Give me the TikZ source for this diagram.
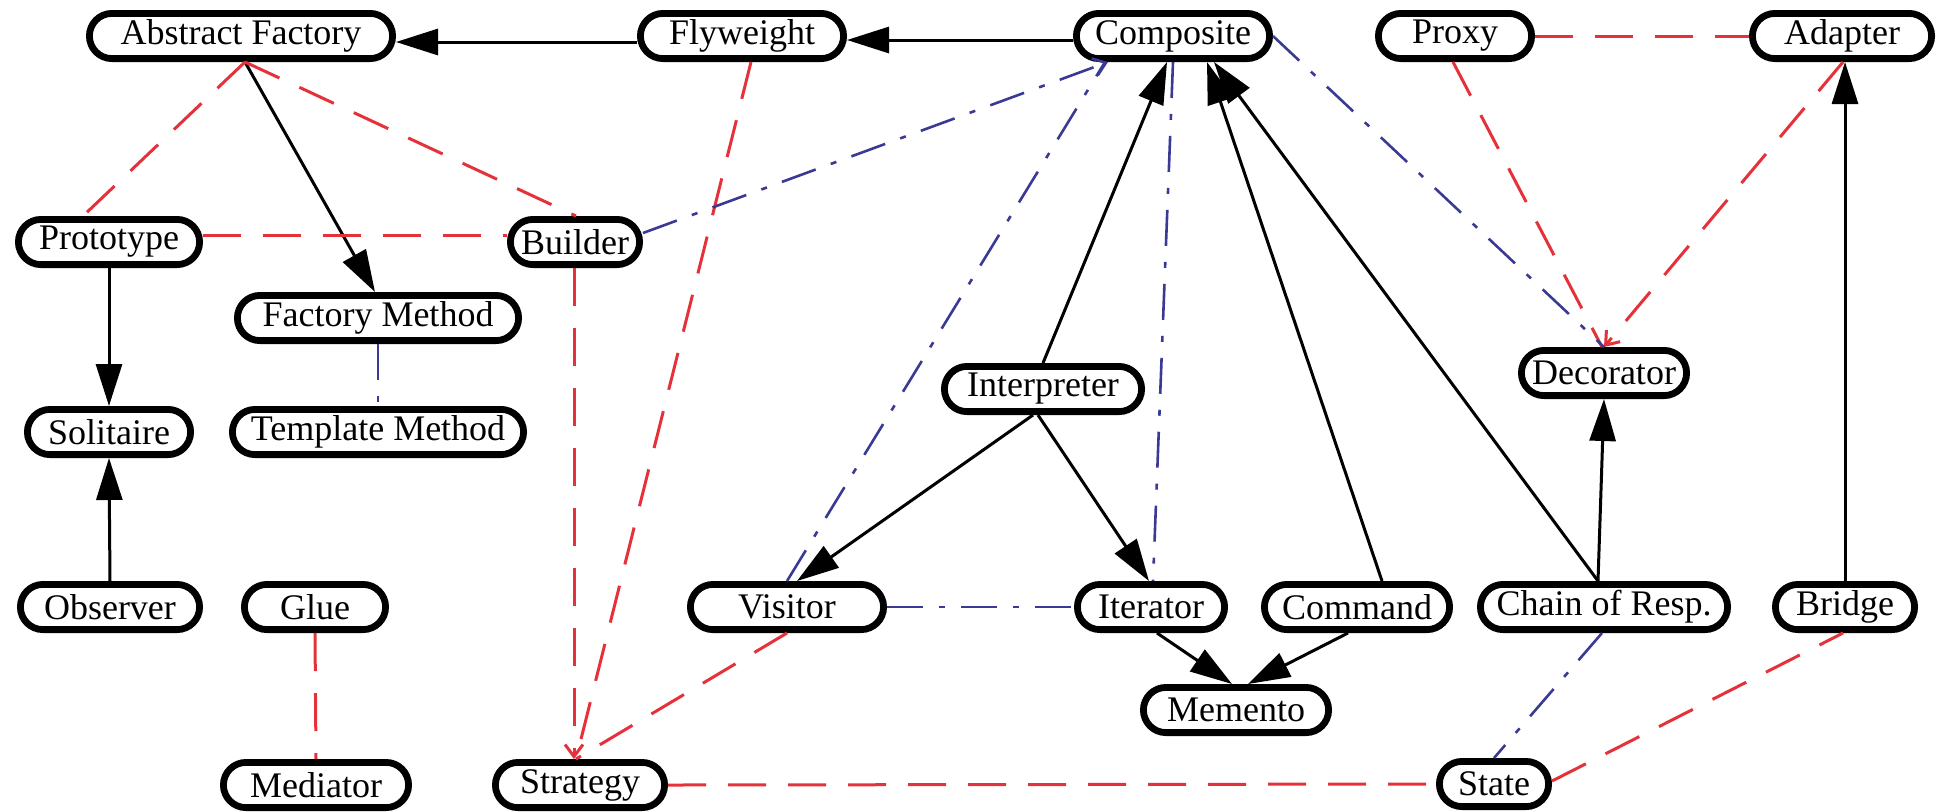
\documentclass[tikz,border=0pt]{standalone}
\usepackage{fontspec}
\setmainfont{Liberation Serif}
\usetikzlibrary{shapes.misc,arrows.meta,calc}
\definecolor{ered}{HTML}{E5323A}
\definecolor{eblue}{HTML}{3A3A94}
\begin{document}
\begin{tikzpicture}[x=0.5pt,y=-0.5pt,
 pat/.style={rounded rectangle, draw=black, line width=3.4pt, fill=white, minimum height=22.6pt, inner xsep=2pt, inner ysep=0pt, font=\fontsize{18}{20}\selectfont},
 uses/.style={black, line width=1.5pt, -{Triangle[length=21pt,width=13pt]}},
 rel/.style={ered, line width=1.5pt, dash pattern=on 19pt off 11pt},
 relarr/.style={rel, -{Straight Barb[length=6pt,width=9pt]}},
 alt/.style={eblue, line width=1.3pt, dash pattern=on 18pt off 8pt on 3pt off 8pt},
 altarr/.style={alt, -{Straight Barb[length=6pt,width=9pt]}}
]
\useasboundingbox (0,0) rectangle (1954,811);
% nodes
\node[pat, minimum width=155.6pt] (AF) at (241,36) {Abstract Factory};
\node[pat, minimum width=105.6pt] (FW) at (742,36) {Flyweight};
\node[pat, minimum width=100.6pt] (CO) at (1173,36) {Composite};
\node[pat, minimum width=80.6pt] (PX) at (1455,36) {Proxy};
\node[pat, minimum width=93.6pt] (AD) at (1842,36) {Adapter};
\node[pat, minimum width=94.6pt] (PT) at (109,242) {Prototype};
\node[pat, minimum width=68.6pt] (BU) at (575,242) {Builder};
\node[pat, minimum width=144.6pt] (FM) at (378,318) {Factory Method};
\node[pat, minimum width=86.6pt] (DE) at (1604,373) {Decorator};
\node[pat, minimum width=102.6pt] (IN) at (1043,389) {Interpreter};
\node[pat, minimum width=85.6pt] (SO) at (109,432) {Solitaire};
\node[pat, minimum width=149.6pt] (TM) at (378,432) {Template Method};
\node[pat, minimum width=93.6pt] (OB) at (110,607) {Observer};
\node[pat, minimum width=74.6pt] (GL) at (315,607) {Glue};
\node[pat, minimum width=100.6pt] (VI) at (787,607) {Visitor};
\node[pat, minimum width=77.6pt] (IT) at (1151,607) {Iterator};
\node[pat, minimum width=96.6pt] (CM) at (1357,607) {Command};
\node[pat, minimum width=127.6pt] (CH) at (1604,607) {Chain of Resp.};
\node[pat, minimum width=73.6pt] (BR) at (1845,607) {Bridge};
\node[pat, minimum width=96.6pt] (ME) at (1236,710) {Memento};
\node[pat, minimum width=96.6pt] (MD) at (316,785) {Mediator};
\node[pat, minimum width=88.6pt] (ST) at (580,785) {Strategy};
\node[pat, minimum width=58.6pt] (SA) at (1494,784) {State};
% solid edges
\draw[uses] ($(FW.west)+(0,6)$) -- ($(AF.east)+(0,6)$);
\draw[uses] ($(CO.west)+(0,4)$) -- ($(FW.east)+(0,4)$);
\draw[uses] ($(AF.south)+(4,0)$) -- ($(FM.north)+(-3,0)$);
\draw[uses] (PT.south) -- (SO.north);
\draw[uses] (OB.north) -- (SO.south);
\draw[uses] (IN.north) -- ($(CO.south)+(-6,0)$);
\draw[uses] ($(CM.north)+(25,0)$) -- ($(CO.south)+(34,0)$);
\draw[uses] ($(CH.north)+(-6,0)$) -- ($(CO.south)+(41,0)$);
\draw[uses] ($(CH.north)+(-6,0)$) -- (DE.south);
\draw[uses] (BR.north) -- (BR.north |- AD.south);
\draw[uses] ($(IN.south)+(-10,0)$) -- ($(VI.north)+(10,0)$);
\draw[uses] ($(IN.south)+(-5,0)$) -- ($(IT.north)+(-2,0)$);
\draw[uses] ($(IT.south)+(6,0)$) -- ($(ME.north)+(-4,0)$);
\draw[uses] ($(CM.south)+(-9,0)$) -- ($(ME.north)+(12,0)$);
% red dashed edges
\draw[rel] ($(AF.south)+(4,0)$) -- ($(PT.north)+(-26,0)$);
\draw[rel] ($(AF.south)+(4,0)$) -- ($(BU.north)+(1,0)$);
\draw[rel] ($(PT.east)+(0,-7)$) -- ($(BU.west)+(0,-7)$);
\draw[relarr] ($(BU.south)+(-1,0)$) -- ($(ST.north)+(-6,0)$);
\draw[rel] ($(FW.south)+(9,0)$) -- ($(ST.north)+(-4,0)$);
\draw[rel] (VI.south) -- ($(ST.north)+(-4,0)$);
\draw[rel] (ST.east) -- (SA.west);
\draw[rel] ($(SA.east)+(0,-3)$) -- ($(BR.south)+(-2,0)$);
\draw[rel] (GL.south) -- (MD.north);
\draw[rel] (PX.east) -- (AD.west);
\draw[rel] ($(PX.south)+(-2,0)$) -- ($(DE.north)+(-2,0)$);
\draw[relarr] ($(AD.south)+(1,0)$) -- (DE.north);
% blue dash-dot edges
\draw[altarr] ($(BU.east)+(0,-9)$) -- ($(CO.south)+(-65,0)$);
\draw[alt] (VI.north) -- ($(CO.south)+(-68,0)$);
\draw[alt] (CO.south) -- ($(IT.north)+(2,0)$);
\draw[alt] (CO.east) -- (DE.north);
\draw[alt] (FM.south) -- (TM.north);
\draw[alt] (VI.east) -- (IT.west);
\draw[alt] ($(CH.south)+(-2,0)$) -- (SA.north);
\end{tikzpicture}
\end{document}
